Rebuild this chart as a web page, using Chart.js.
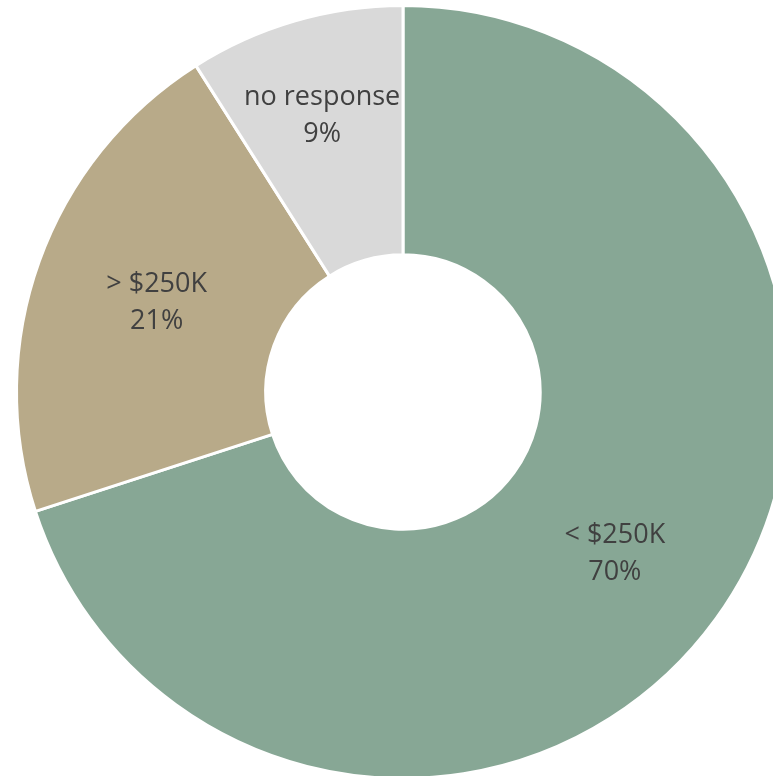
<!DOCTYPE html>
<html>
<head>
<meta charset="utf-8">
<script src="https://cdn.jsdelivr.net/npm/chart.js@4"></script>
<style>
  html, body { margin: 0; padding: 0; background: #fff; overflow: hidden; }
  #wrap { position: absolute; left: 0; top: 0; }
</style>
</head>
<body>
<div id="wrap"><canvas id="incomeChart" width="806" height="784"></canvas></div>
<script>
const categories = ['< $250K', '> $250K', 'no response'];
const shares = [70, 21, 9];
const sliceColors = ['#87A795', '#B8AA89', '#D9D9D9'];

// draws "name / pct" in the middle of each ring segment
const sliceLabels = {
    id: 'sliceLabels',
    afterDatasetsDraw(chart, args, opts) {
        const ctx = chart.ctx;
        const meta = chart.getDatasetMeta(0);
        ctx.save();
        ctx.font = opts.font;
        ctx.fillStyle = opts.color;
        ctx.textAlign = 'center';
        ctx.textBaseline = 'middle';
        meta.data.forEach((arc, i) => {
            const mid = (arc.startAngle + arc.endAngle) / 2;
            const r = (arc.innerRadius + arc.outerRadius) / 2 + (opts.radialShift[i] || 0);
            const x = arc.x + Math.cos(mid) * r;
            const y = arc.y + Math.sin(mid) * r + (opts.yShift[i] || 0);
            const value = chart.data.datasets[0].data[i];
            ctx.fillText(chart.data.labels[i], x, y - opts.lineGap / 2);
            ctx.fillText(value + '%', x, y + opts.lineGap / 2);
        });
        ctx.restore();
    }
};

const ctx = document.getElementById('incomeChart').getContext('2d');
new Chart(ctx, {
    type: 'doughnut',
    data: {
        labels: categories,
        datasets: [{
            data: shares,
            backgroundColor: sliceColors,
            borderColor: '#ffffff',
            borderWidth: 3
        }]
    },
    options: {
        responsive: false,
        animation: false,
        cutout: '35.5%',
        layout: { padding: { left: 15, right: 15, top: 4, bottom: 4 } },
        plugins: {
            legend: { display: false },
            tooltip: { enabled: false },
            sliceLabels: {
                font: '27px "Open Sans", sans-serif',
                color: '#404040',
                lineGap: 37,
                radialShift: [0, 0, 28],
                yShift: [8, 0, 2]
            }
        }
    },
    plugins: [sliceLabels]
});
</script>
</body>
</html>
